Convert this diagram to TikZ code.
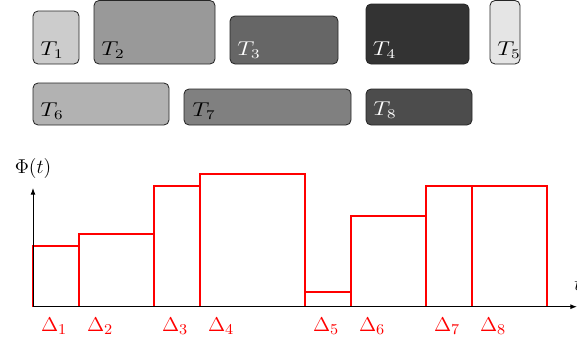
\documentclass[tikz,border=0pt]{standalone}
\usepackage{graphicx}
\usetikzlibrary{fit,arrows.meta}
\newcommand{\tlbltext}[1]{\scalebox{1.2}[1]{\fontsize{11.5}{13}\selectfont$#1$}}
\newcommand{\dlbltext}[1]{\scalebox{1.05}[1]{\fontsize{13}{15}\selectfont$#1$}}
\begin{document}
\begin{tikzpicture}[x=0.6pt,y=-0.6pt,
  tbox/.style={draw=black!85, rounded corners=3pt, inner sep=0pt, line width=0.5pt},
  tlab/.style={anchor=base west, inner sep=0pt},
  bar/.style={draw=red, line width=0.9pt, inner sep=0pt},
  dlab/.style={anchor=base west, inner sep=0pt, text=red},
  axis/.style={draw=black, line width=0.6pt, -{Latex[length=4pt,width=3pt]}}]
\useasboundingbox (0,0) rectangle (577,345);

% task boxes
\node[tbox, fill=black!20, fit={(33,11) (79,64)}] (T1) {};
\node[tbox, fill=black!40, fit={(94,0.5) (215,64)}] (T2) {};
\node[tbox, fill=black!60, fit={(230,16) (338,64)}] (T3) {};
\node[tbox, fill=black!80, fit={(366,4) (469,64)}] (T4) {};
\node[tbox, fill=black!10, fit={(490,0.5) (520,64)}] (T5) {};
\node[tbox, fill=black!30, fit={(33,83) (169,125)}] (T6) {};
\node[tbox, fill=black!50, fit={(184,89) (351,125)}] (T7) {};
\node[tbox, fill=black!70, fit={(366,89) (472,125)}] (T8) {};

\node[tlab] (L1) at ([shift={(7.5,-8.5)}]T1.south west) {\tlbltext{T_1}};
\node[tlab] (L2) at ([shift={(7.5,-8.5)}]T2.south west) {\tlbltext{T_2}};
\node[tlab, text=white] (L3) at ([shift={(7.5,-8.5)}]T3.south west) {\tlbltext{T_3}};
\node[tlab, text=white] (L4) at ([shift={(7,-8.5)}]T4.south west) {\tlbltext{T_4}};
\node[tlab] (L5) at ([shift={(7.5,-8.5)}]T5.south west) {\tlbltext{T_5}};
\node[tlab] (L6) at ([shift={(7.5,-8.5)}]T6.south west) {\tlbltext{T_6}};
\node[tlab] (L7) at ([shift={(8.5,-8.5)}]T7.south west) {\tlbltext{T_7}};
\node[tlab, text=white] (L8) at ([shift={(7.5,-9.5)}]T8.south west) {\tlbltext{T_8}};

% bars
\node[bar, fit={(33,246) (79,306.7)}] (D1) {};
\node[bar, fit={(79,234) (154,306.7)}] (D2) {};
\node[bar, fit={(154,186) (200,306.7)}] (D3) {};
\node[bar, fit={(200,174) (305,306.7)}] (D4) {};
\node[bar, fit={(305,292) (351,306.7)}] (D5) {};
\node[bar, fit={(351,216) (426,306.7)}] (D6) {};
\node[bar, fit={(426,186) (472,306.7)}] (D7) {};
\node[bar, fit={(472,186) (547,306.7)}] (D8) {};

\foreach \i in {1,...,8}{
  \node[dlab] (DL\i) at ([shift={(8.5,24)}]D\i.south west) {\dlbltext{\Delta_{\i}}};
}

% axes
\coordinate (O) at (33,306.7);
\coordinate (ytop) at (33,188);
\coordinate (xend) at (577,306.7);
\draw[axis] (O) -- (ytop);
\draw[axis] (O) -- (xend);
\node[anchor=base, inner sep=0pt] (phi) at ([shift={(0,-15)}]ytop) {\fontsize{13}{15}\selectfont$\Phi(t)$};
\node[anchor=base west, inner sep=0pt] (tl) at ([shift={(-3,-16)}]xend) {\fontsize{11.5}{13}\selectfont$t$};
\end{tikzpicture}
\end{document}
